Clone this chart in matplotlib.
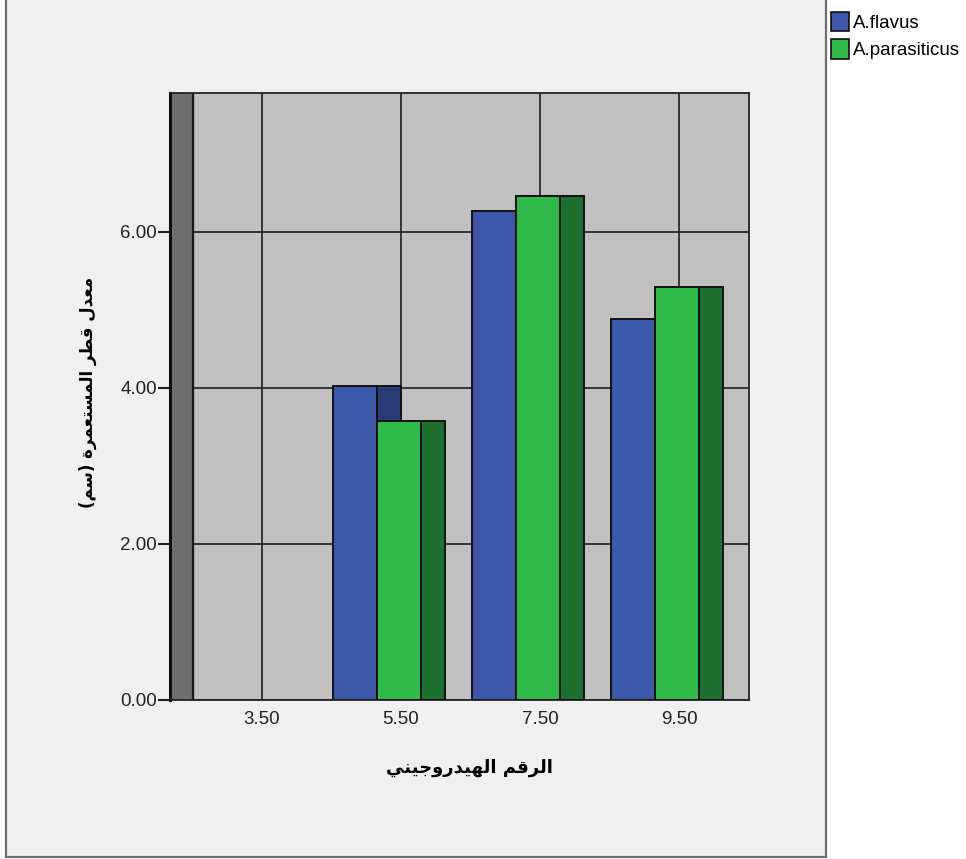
import numpy as np
import matplotlib.pyplot as plt
from matplotlib.patches import Patch, Rectangle

ph_levels = ['3.50', '5.50', '7.50', '9.50']
flavus = [np.nan, 4.03, 6.27, 4.88]
parasiticus = [np.nan, 3.58, 6.46, 5.29]
series_names = ['A.flavus', 'A.parasiticus']
y_ticks = [0, 2, 4, 6]

x_title = 'الرقم الهيدروجيني'
y_title = 'معدل قطر المستعمرة (سم)'

# presentation forms: isolated, final, initial, medial
FORMS = {
    'ا': ('\ufe8d', '\ufe8e', None, None),
    'ل': ('\ufedd', '\ufede', '\ufedf', '\ufee0'),
    'ر': ('\ufead', '\ufeae', None, None),
    'ق': ('\ufed5', '\ufed6', '\ufed7', '\ufed8'),
    'م': ('\ufee1', '\ufee2', '\ufee3', '\ufee4'),
    'ه': ('\ufee9', '\ufeea', '\ufeeb', '\ufeec'),
    'ي': ('\ufef1', '\ufef2', '\ufef3', '\ufef4'),
    'د': ('\ufea9', '\ufeaa', None, None),
    'و': ('\ufeed', '\ufeee', None, None),
    'ج': ('\ufe9d', '\ufe9e', '\ufe9f', '\ufea0'),
    'ن': ('\ufee5', '\ufee6', '\ufee7', '\ufee8'),
    'ع': ('\ufec9', '\ufeca', '\ufecb', '\ufecc'),
    'ط': ('\ufec1', '\ufec2', '\ufec3', '\ufec4'),
    'س': ('\ufeb1', '\ufeb2', '\ufeb3', '\ufeb4'),
    'ت': ('\ufe95', '\ufe96', '\ufe97', '\ufe98'),
    'ة': ('\ufe93', '\ufe94', None, None),
}


def shape_arabic(text):
    """Join letters and put them in visual order (matplotlib has no shaping)."""
    out = []
    for i, ch in enumerate(text):
        if ch not in FORMS:
            out.append(ch)
            continue
        prev = text[i - 1] if i > 0 else ''
        nxt = text[i + 1] if i + 1 < len(text) else ''
        join_prev = prev in FORMS and FORMS[prev][2] is not None
        join_next = FORMS[ch][2] is not None and nxt in FORMS
        iso, fin, ini, med = FORMS[ch]
        if join_prev and join_next:
            out.append(med)
        elif join_prev:
            out.append(fin)
        elif join_next:
            out.append(ini)
        else:
            out.append(iso)
    mirror = {'(': ')', ')': '('}
    return ''.join(mirror.get(c, c) for c in reversed(out))


plt.rcParams['font.family'] = ['Liberation Sans', 'DejaVu Sans']

fig = plt.figure(figsize=(9.66, 8.59), dpi=100, facecolor='white')
fig.patches.append(Rectangle((6 / 966, 0.002), 820 / 966, 1.05, transform=fig.transFigure,
                             facecolor='#f0f0f0', edgecolor='#6e6e6e', lw=1.6, zorder=-10))

ax = fig.add_axes([170 / 966, 159 / 859, 579 / 966, 607 / 859])
ax.set_facecolor('#c0c0c0')

x = np.arange(len(ph_levels))
front_w = 0.317
depth = 0.172
wall = 0.165
xmin, xmax = -0.662, 3.504

# left side wall
ax.axvspan(xmin, xmin + wall, color='#6f6f6f', zorder=1.5)
ax.axvline(xmin + wall, color='#1a1a1a', lw=1.6, zorder=1.6)

blue, blue_side = '#3d57a9', '#2a3a72'
green, green_side = '#2fba4a', '#1e7030'
left = x - 0.49
ax.bar(left, flavus, width=front_w, align='edge', color=blue, edgecolor='#111111', lw=1.4, zorder=2)
ax.bar(left + front_w, flavus, width=depth, align='edge', color=blue_side, edgecolor='#111111', lw=1.4, zorder=2)
ax.bar(left + front_w, parasiticus, width=front_w, align='edge', color=green, edgecolor='#111111', lw=1.4, zorder=3)
ax.bar(left + 2 * front_w, parasiticus, width=depth, align='edge', color=green_side, edgecolor='#111111', lw=1.4, zorder=3)

ax.set_xlim(xmin, xmax)
ax.set_ylim(0, 7.78)
ax.set_xticks(x)
ax.set_xticklabels(ph_levels)
ax.set_yticks(y_ticks)
ax.set_yticklabels(['%.2f' % v for v in y_ticks])
ax.grid(True, color='#2a2a2a', lw=1.3)
ax.set_axisbelow(True)
ax.tick_params(axis='x', length=0, pad=8, labelsize=13.5, colors='#222222')
ax.tick_params(axis='y', length=8.5, width=1.5, pad=1, labelsize=13.5, colors='#222222')
for side in ['top', 'right', 'bottom']:
    ax.spines[side].set_color('#222222')
    ax.spines[side].set_linewidth(1.3)
ax.spines['left'].set_linewidth(2.2)
ax.spines['left'].set_color('#111111')

ax.set_xlabel(shape_arabic(x_title), fontsize=13, fontweight='bold', family='DejaVu Sans')
ax.xaxis.set_label_coords((469 - 170) / 579, (700 - 768) / 607)
ax.xaxis.label.set_va('center')
ax.set_ylabel(shape_arabic(y_title), fontsize=12, fontweight='bold', family='DejaVu Sans')
ax.yaxis.set_label_coords((88 - 170) / 579, (700 - 392) / 607)
ax.yaxis.label.set_va('center')

handles = [Patch(facecolor=blue, edgecolor='#111111', lw=1.2),
           Patch(facecolor=green, edgecolor='#111111', lw=1.2)]
fig.legend(handles, series_names, loc='upper left', bbox_to_anchor=(823 / 966, 1 - 4 / 859),
           frameon=False, fontsize=13.5, handlelength=1.0, handleheight=1.25,
           handletextpad=0.2, labelspacing=0.4, borderaxespad=0)

fig.savefig('out.png', dpi=100, facecolor='white')
